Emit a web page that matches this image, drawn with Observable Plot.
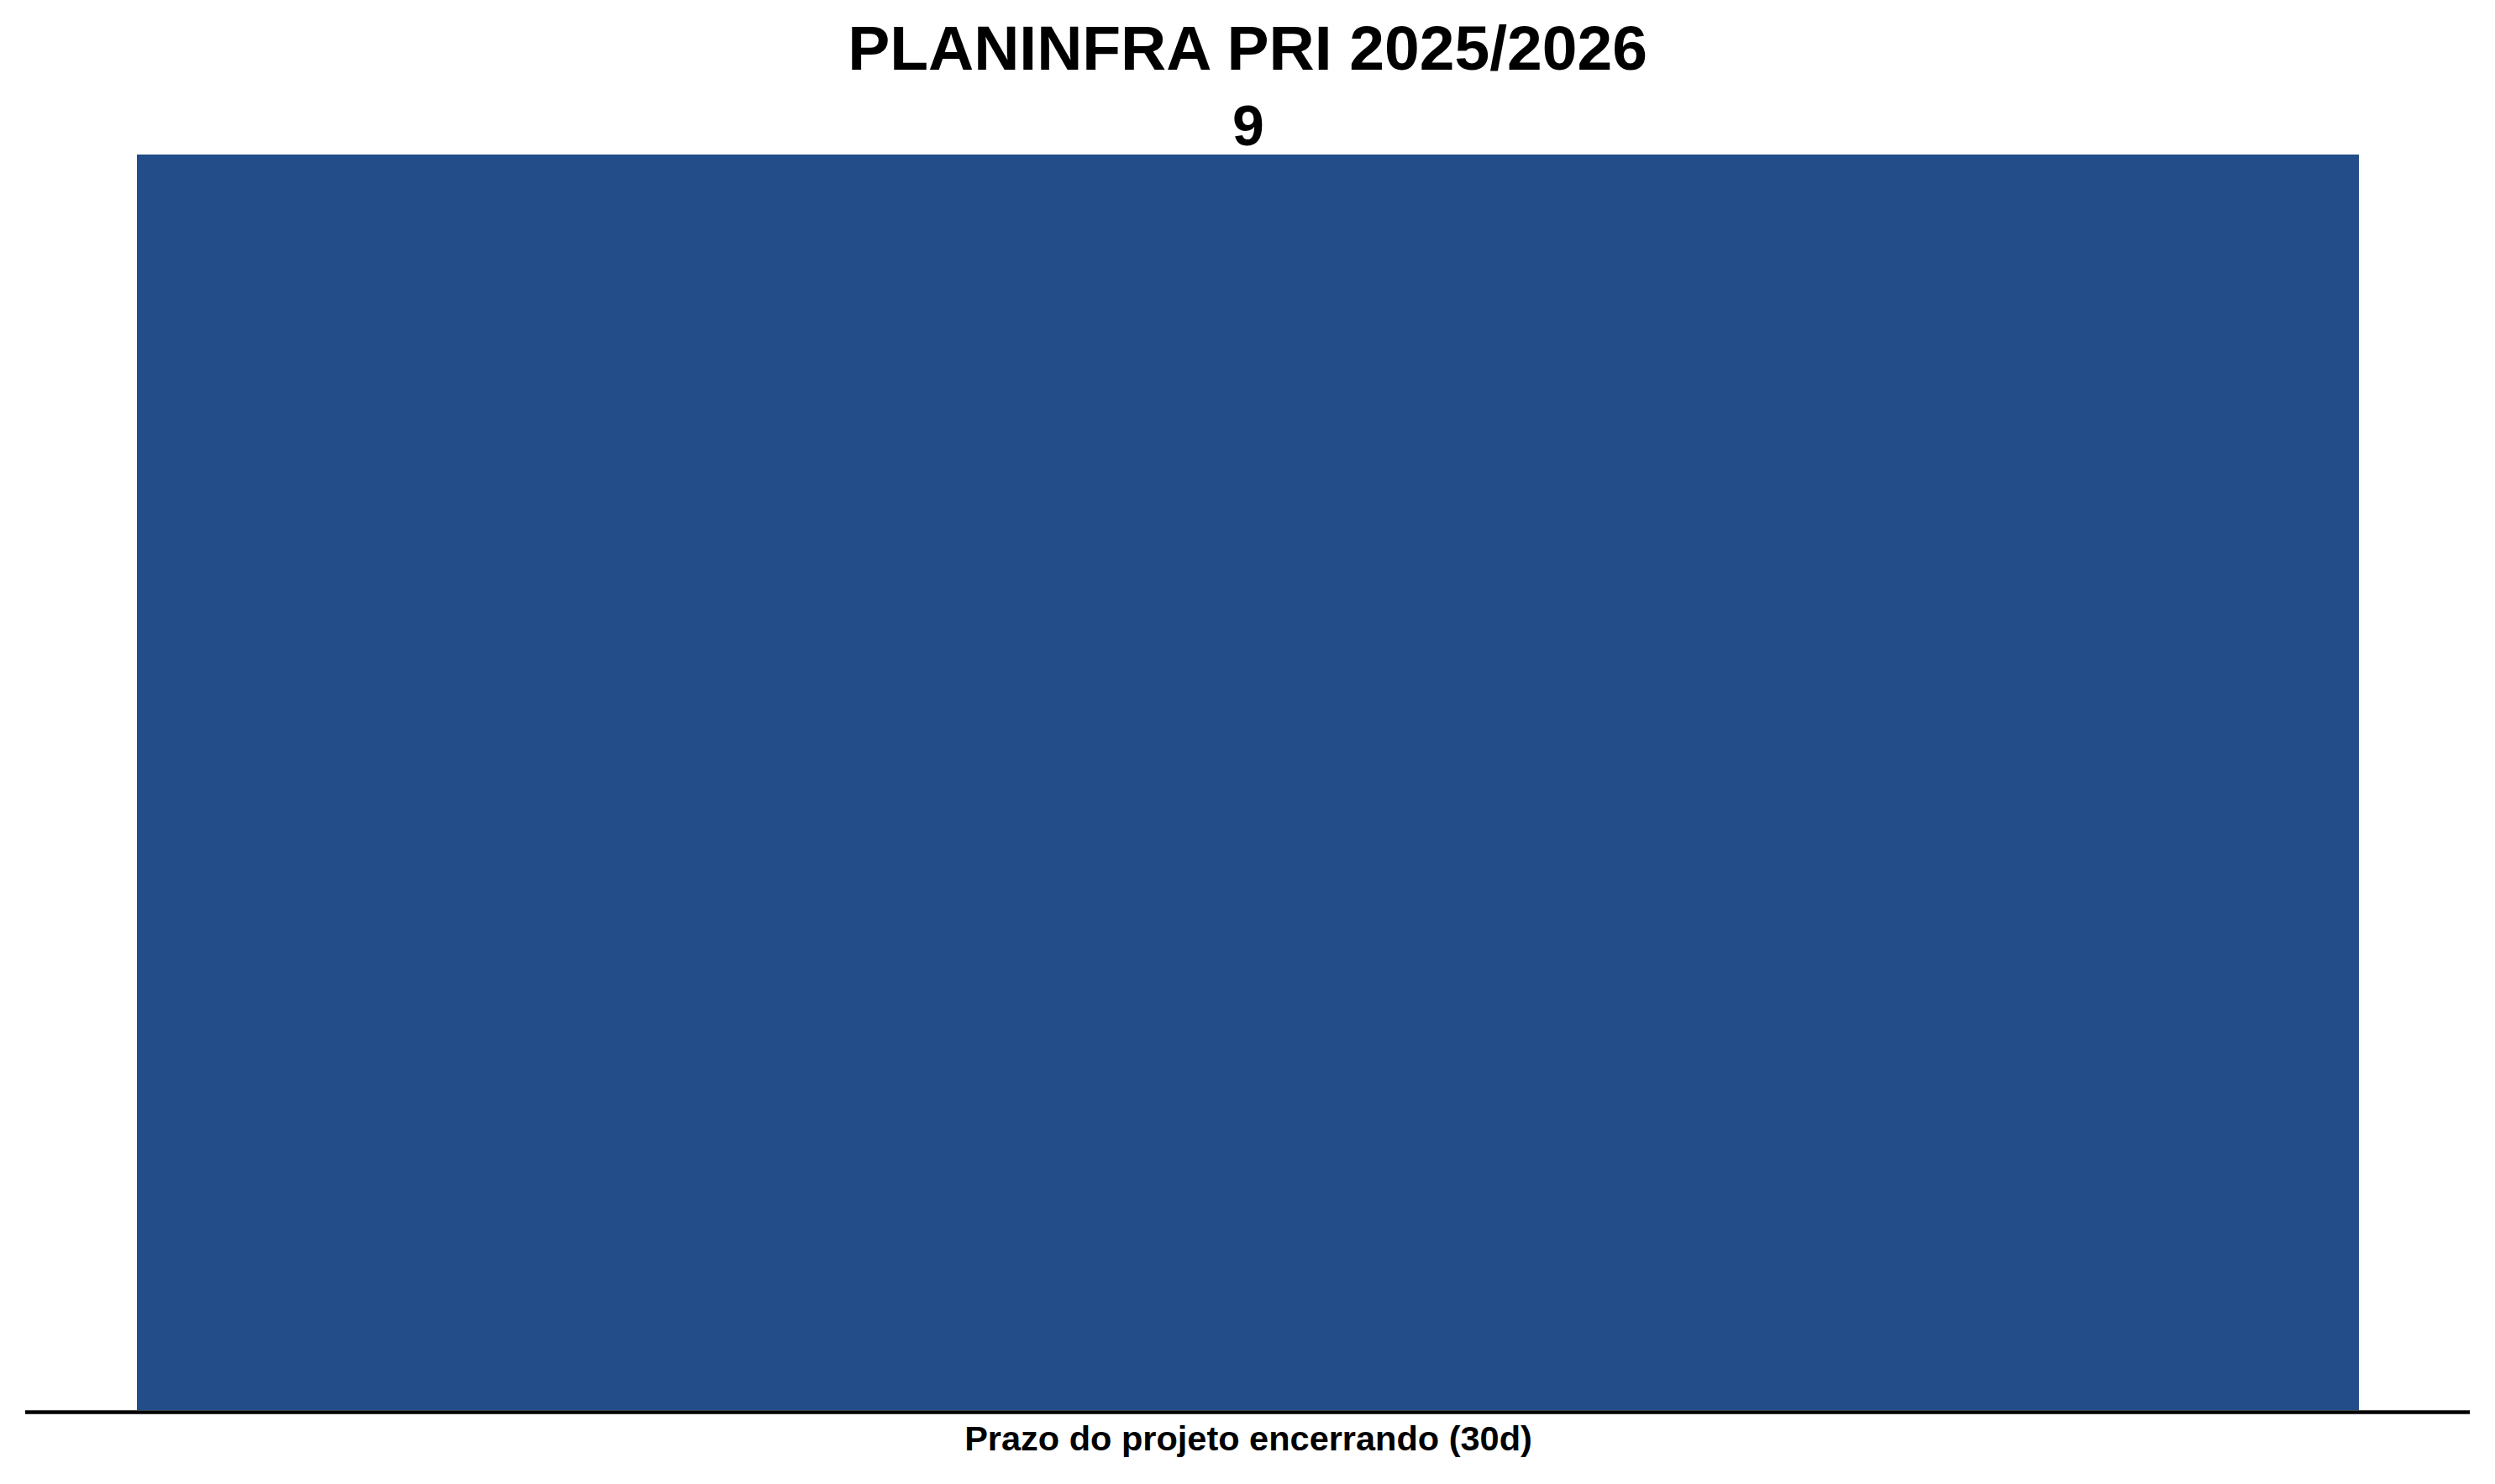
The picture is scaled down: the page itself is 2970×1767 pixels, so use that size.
<!DOCTYPE html>
<html>
<head>
<meta charset="utf-8">
<script src="https://cdn.jsdelivr.net/npm/d3@7"></script>
<script src="https://cdn.jsdelivr.net/npm/@observablehq/plot@0.6"></script>
<style>
  html, body { margin: 0; padding: 0; background: #fff; }
  body { width: 2970px; height: 1767px; overflow: hidden; font-family: "Liberation Sans", Arial, sans-serif; }
  #title { height: 105px; padding-top: 5px; line-height: 105px; text-align: center; font-size: 75px; font-weight: bold; color: #000; }
  #chart svg text { font-family: "Liberation Sans", Arial, sans-serif; font-weight: bold; }
</style>
</head>
<body>
<div id="title">PLANINFRA PRI 2025/2026</div>
<div id="chart"></div>
<script>
const categories = ["Prazo do projeto encerrando (30d)"];
const values = [9];
const barColor = "#224d89";

const data = categories.map((c, i) => ({category: c, value: values[i]}));

const chart = Plot.plot({
  width: 2970,
  height: 1657,
  marginLeft: 30,
  marginRight: 30,
  marginTop: 74,
  marginBottom: 88,
  style: {background: "#fff", color: "#000", fontFamily: "Liberation Sans, Arial, sans-serif"},
  x: {domain: categories, paddingInner: 0, paddingOuter: 0.05, label: null},
  y: {domain: [0, 9], axis: null},
  marks: [
    Plot.barY(data, {x: "category", y: "value", fill: barColor}),
    Plot.ruleY([0], {stroke: "#000", strokeWidth: 4.5, dy: 2}),
    Plot.text(data, {x: "category", y: "value", text: d => String(d.value), dy: -12, lineAnchor: "bottom", fontSize: 68, fontWeight: "bold", fill: "#000"}),
    Plot.axisX({tickSize: 0, tickPadding: 18, fontSize: 41.5, fontWeight: "bold", label: null})
  ]
});
document.getElementById("chart").appendChild(chart);
</script>
</body>
</html>
